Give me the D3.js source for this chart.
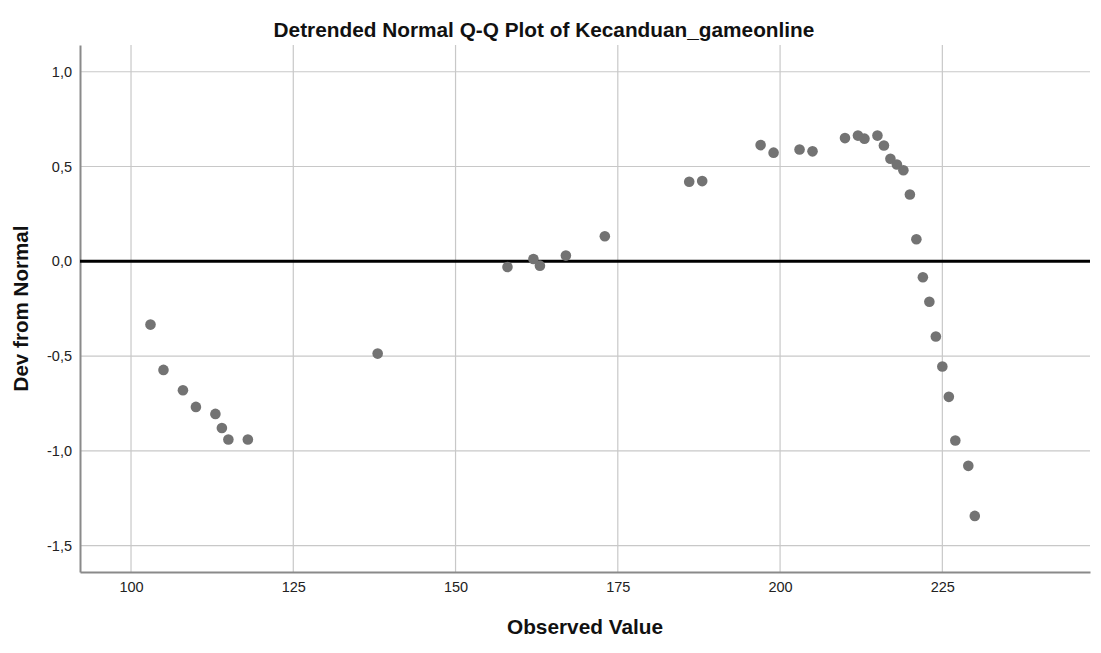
<!DOCTYPE html>
<html>
<head>
<meta charset="utf-8">
<script src="https://cdn.jsdelivr.net/npm/d3@7"></script>
<style>
  body { margin: 0; background: #fff; }
  text { font-family: "Liberation Sans", Arial, sans-serif; }
</style>
</head>
<body>
<svg width="1101" height="653"></svg>
<script>
// Valores
const valorObservado = [103, 105, 108, 110, 113, 114, 115, 118, 138,
    158, 162, 163, 167, 173, 186, 188, 197, 199, 203, 205,
    210, 212, 213, 215, 216, 217, 218, 219, 220, 221, 222, 223, 224,
    225, 226, 227, 229, 230];
const desviacion = [-0.334, -0.573, -0.68, -0.768, -0.805, -0.879, -0.94, -0.94, -0.487,
    -0.03, 0.012, -0.023, 0.03, 0.132, 0.42, 0.423, 0.613, 0.573, 0.59, 0.58,
    0.65, 0.663, 0.647, 0.663, 0.611, 0.541, 0.511, 0.48, 0.352, 0.116, -0.084, -0.213, -0.397,
    -0.555, -0.715, -0.945, -1.079, -1.343];
const ticksX = [100, 125, 150, 175, 200, 225];
const ticksY = [1.0, 0.5, 0.0, -0.5, -1.0, -1.5];

const svg = d3.select('svg');

const izq = 80, der = 1090, arriba = 45, abajo = 572;

const x = d3.scaleLinear()
    .domain([92.14, 247.75])
    .range([izq, der]);

const y = d3.scaleLinear()
    .domain([-1.639, 1.141])
    .range([abajo, arriba]);

// Formato con coma decimal y guion normal
const coma = d => d.toFixed(1).replace('.', ',');

// Líneas de la cuadrícula
svg.append('g')
    .selectAll('line')
    .data(ticksX)
    .join('line')
        .attr('x1', d => x(d)).attr('x2', d => x(d))
        .attr('y1', arriba).attr('y2', abajo)
        .attr('stroke', '#c8c8c8')
        .attr('stroke-width', 1.2);

svg.append('g')
    .selectAll('line')
    .data(ticksY)
    .join('line')
        .attr('x1', izq).attr('x2', der)
        .attr('y1', d => y(d)).attr('y2', d => y(d))
        .attr('stroke', '#c8c8c8')
        .attr('stroke-width', 1.2);

// Ejes
const ejeX = svg.append('g')
    .attr('transform', `translate(0, ${abajo})`)
    .call(d3.axisBottom(x).tickValues(ticksX).tickSize(0).tickPadding(10));

const ejeY = svg.append('g')
    .attr('transform', `translate(${izq}, 0)`)
    .call(d3.axisLeft(y).tickValues(ticksY).tickFormat(coma).tickSize(0).tickPadding(8));

[ejeX, ejeY].forEach(eje => {
    eje.select('.domain')
        .attr('stroke', '#8a8a8a')
        .attr('stroke-width', 2);
    eje.selectAll('text')
        .attr('fill', '#222')
        .attr('font-size', 14.5)
        .style('font-family', '"Liberation Sans", Arial, sans-serif');
});

// Línea de referencia en cero
svg.append('line')
    .attr('x1', izq).attr('x2', der)
    .attr('y1', y(0)).attr('y2', y(0))
    .attr('stroke', '#000')
    .attr('stroke-width', 3);

// Puntos
svg.append('g')
    .selectAll('circle')
    .data(valorObservado)
    .join('circle')
        .attr('cx', d => x(d))
        .attr('cy', (d, i) => y(desviacion[i]))
        .attr('r', 5.3)
        .attr('fill', '#737373');

// Títulos
svg.append('text')
    .attr('x', 544)
    .attr('y', 37)
    .attr('text-anchor', 'middle')
    .attr('font-size', 20.8)
    .attr('font-weight', 'bold')
    .attr('fill', '#111')
    .text('Detrended Normal Q-Q Plot of Kecanduan_gameonline');

svg.append('text')
    .attr('x', (izq + der) / 2)
    .attr('y', 634)
    .attr('text-anchor', 'middle')
    .attr('font-size', 20.8)
    .attr('font-weight', 'bold')
    .attr('fill', '#111')
    .text('Observed Value');

svg.append('text')
    .attr('transform', `translate(28, ${(arriba + abajo) / 2}) rotate(-90)`)
    .attr('text-anchor', 'middle')
    .attr('font-size', 20.6)
    .attr('font-weight', 'bold')
    .attr('fill', '#111')
    .text('Dev from Normal');
</script>
</body>
</html>
